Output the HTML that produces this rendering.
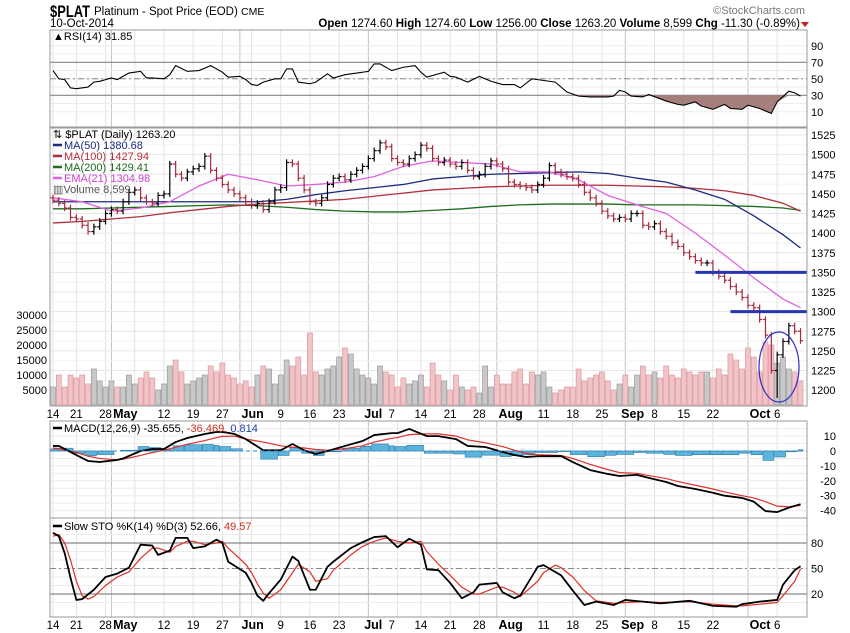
<!DOCTYPE html>
<html><head><meta charset="utf-8"><style>
html,body{margin:0;padding:0;background:#fff;}
svg{display:block;font-family:"Liberation Sans",sans-serif;}
</style></head><body>
<svg id="c" width="850" height="633" viewBox="0 0 850 633" xmlns="http://www.w3.org/2000/svg">
<text x="50" y="17" font-size="17" font-weight="bold" fill="#000" textLength="40" lengthAdjust="spacingAndGlyphs">$PLAT</text>
<text x="94" y="15" font-size="11.5" fill="#000">Platinum  - Spot Price (EOD) <tspan font-size="10.5">CME</tspan></text>
<text x="805" y="14" font-size="11" fill="#777" text-anchor="end">©StockCharts.com</text>
<text x="50" y="27" font-size="11.5" fill="#000">10-Oct-2014</text>
<text x="800" y="27" font-size="11.5" fill="#000" text-anchor="end"><tspan font-weight="bold">Open</tspan> 1274.60 <tspan font-weight="bold">High</tspan> 1274.60 <tspan font-weight="bold">Low</tspan> 1256.00 <tspan font-weight="bold">Close</tspan> 1263.20 <tspan font-weight="bold">Volume</tspan> 8,599 <tspan font-weight="bold">Chg</tspan> -11.30 (-0.89%)</text>
<polygon points="801,22 809,22 805,27" fill="#c02020"/>
<g id="g"></g>
</svg>
<script>
// ---------- data ----------
const closes=[1442,1438,1432,1420,1418,1410,1402,1408,1415,1425,
1430,1428,1440,1452,1455,1445,1440,1438,1448,1450,
1488,1475,1470,1478,1482,1485,1498,1480,1470,1462,
1455,1450,1445,1440,1435,1438,1430,1440,1455,1458,
1490,1488,1470,1455,1440,1438,1445,1462,1470,1472,
1468,1475,1480,1485,1495,1505,1515,1510,1495,1490,
1488,1495,1500,1512,1508,1495,1490,1493,1488,1485,
1490,1480,1472,1475,1485,1492,1488,1482,1465,1462,
1460,1458,1455,1462,1470,1486,1478,1475,1472,1470,
1462,1452,1445,1438,1428,1422,1418,1420,1418,1425,
1425,1410,1408,1412,1402,1396,1388,1383,1375,1370,
1365,1362,1362,1350,1345,1340,1332,1325,1318,1308,
1305,1290,1270,1225,1245,1262,1282,1275,1263];
const spikeLowIdx=[124];
const spikeLowVal=[1190];
const volumes=[6,10,6,10,9,10,7,12,8,6,
8,6,6,10,7,9,11,9,5,7,
13,15,11,7,8,9,10,13,11,14,
10,9,7,8,6,10,13,12,7,10,
15,13,16,10,24,11,10,12,13,16,
19,17,12,10,9,7,13,11,10,6,
9,7,8,10,6,14,10,8,5,10,
6,5,6,4,13,6,10,7,7,11,
12,7,11,10,11,6,4,5,6,6,
12,8,9,10,11,8,5,7,10,6,
10,13,10,11,9,13,10,9,12,11,
10,11,11,9,12,10,17,15,12,19,
16,11,21,20,14,16,12,11,8];
const maWeekIdx=[0,5,10,15,20,25,30,35,40,45,50,55,60,65,70,75,80,85,90,95,100,105,110,115,120,125,128];
const ma50=[1440,1440,1440,1440,1440,1440,1440,1440,1443,1449,1454,1458,1462,1469,1472,1475,1476,1477,1478,1476,1470,1465,1455,1443,1422,1398,1381];
const ma100=[1413,1415,1418,1421,1426,1430,1434,1437,1439,1441,1443,1447,1451,1455,1457,1459,1460,1461,1461,1461,1460,1459,1457,1454,1448,1438,1428];
const ma200=[1431,1431,1432,1433,1434,1435,1436,1435,1433,1430,1428,1427,1427,1429,1431,1434,1436,1437,1437,1437,1436,1436,1436,1435,1434,1432,1429];
const ema21=[1445,1440,1428,1432,1440,1460,1475,1468,1460,1462,1465,1472,1485,1492,1490,1488,1478,1478,1468,1448,1436,1425,1400,1372,1343,1316,1305];
const rsiIdx=[0,1,2,3,4,6,7,8,9,10,11,13,15,16,17,19,20,21,23,25,27,29,30,32,33,34,35,36,38,39,40,41,42,44,45,47,48,50,52,54,55,56,58,60,62,63,64,67,68,69,71,73,75,77,79,80,82,83,86,88,90,92,95,96,97,98,99,101,102,105,107,108,110,111,113,115,116,118,119,121,123,124,126,127,128];
const rsiVal=[60,50,49,39,38,40,46,47,49,51,49,57,59,51,51,50,55,66,59,60,66,58,52,53,49,43,42,46,50,50,62,62,46,44,46,56,51,55,57,59,68,68,60,64,66,58,52,58,53,52,46,53,47,43,43,39,50,49,46,34,29,28,28,29,36,34,29,28,31,23,19,18,22,17,13,19,14,13,18,14,8,22,35,33,29];
const macdIdx=[0,1,4,6,8,11,12,15,17,19,21,23,26,28,29,31,33,36,39,41,43,45,47,50,53,55,58,59,61,64,66,69,71,74,77,79,81,83,87,89,92,95,97,100,102,105,107,110,113,115,118,120,122,124,126,128];
const macdVal=[3.4,3.4,-2.7,-6.7,-7.4,-6,-5,0,1.3,1.3,6,8.7,11.4,12.8,12.8,11.5,8,0.5,0.5,4.7,0.5,-2,0,3.4,6.7,10.7,12,12,14.8,10,10,8,3.4,2.7,-0.7,-2.7,-4,-3.5,-3.4,-7.4,-12.8,-15.4,-16.8,-16,-18,-20.8,-23.5,-25.5,-28,-30,-31.5,-34,-40.3,-41,-38,-35.7];
const signalVal=[2,1.5,-1,-3.5,-5,-6,-5.5,-3,-1,0.5,2.5,4.5,7,9,9.8,10,8,6,3.5,2.5,2,1,0.5,1.5,3.5,6,8.5,9,11,11.5,11.5,10,7.5,5.5,3,0.5,-1.5,-2.5,-3,-5,-9,-12.5,-14.5,-15,-16.5,-18.5,-20.5,-23,-25.5,-27.5,-30,-31.5,-34,-37,-37.5,-36.5];
const stoKIdx=[0,1,2,3,4,5,7,9,11,13,15,17,18,20,21,23,24,26,28,29,30,33,34,35,36,37,39,41,42,44,45,47,48,51,53,55,57,59,61,63,64,66,68,70,72,73,76,77,79,80,83,84,87,89,91,93,96,98,101,104,109,113,117,118,121,124,125,127,128];
const stoK=[92,88,68,39,13,14,25,40,44,51,78,77,66,71,86,86,74,76,84,80,58,45,33,18,12,21,37,64,59,25,25,52,58,74,81,87,88,75,85,78,49,48,33,15,22,31,33,22,15,18,52,54,42,24,7,11,7,13,11,9,12,6,5,8,11,13,31,48,52.7];
const stoDIdx=[0,1,2,3,4,5,6,7,9,11,13,15,17,18,20,21,23,24,26,28,29,30,33,34,35,36,37,39,41,42,44,45,47,48,51,53,55,57,59,61,63,64,66,68,70,72,73,76,77,79,80,83,84,86,87,89,91,93,96,98,101,104,109,113,117,118,121,124,125,127,128];
const stoD=[88,90,80,60,35,18,14,17,30,40,46,62,74,74,69,76,82,82,78,80,82,74,55,45,32,21,15,25,45,55,46,35,38,48,66,76,82,86,82,80,82,70,55,42,28,20,20,28,28,22,17,35,45,54,51,40,24,12,9,10,11,10,11,8,6,6,8,10,18,35,49.6];
const tickIdx=[0,4,9,12,19,24,29,34,39,44,49,55,58,63,68,73,78,84,89,94,99,103,108,113,121,124];
const tickLbl=["14","21","28","May","12","19","27","Jun","9","16","23","Jul","7","14","21","28","Aug","11","18","25","Sep","8","15","22","Oct","6"];
const monthIdx=[10,32,54,76,98,119];
const weekIdx=[0,4,9,14,19,24,29,34,39,44,49,59,63,68,73,83,89,94,103,108,113,124];
const supportLevels=[1350,1300];
const supportStart=[110,116];
const priceTicks=[1525,1500,1475,1450,1425,1400,1375,1350,1325,1300,1275,1250,1225,1200];
const volTicks=[30000,25000,20000,15000,10000,5000];
// ---------- scales ----------
const L=50,R=807;
const X=i=>53+i*5.84;
const PY=p=>135+(1525-p)*0.785;
const VY=v=>405-v*3;
const RY=v=>62.3+(70-v)*0.825;
const MY=v=>451-v*1.49;
const SY=v=>611-v*0.85;
const NS="http://www.w3.org/2000/svg";
const G=document.getElementById('g');
function mk(t,a,p){const e=document.createElementNS(NS,t);for(const k in a)e.setAttribute(k,a[k]);(p||G).appendChild(e);return e;}
function line(x1,y1,x2,y2,st,w,da){return mk('line',{x1,y1,x2,y2,stroke:st,'stroke-width':w||1,'stroke-dasharray':da||'none'});}
function txt(x,y,s,o){const e=mk('text',Object.assign({x,y,'font-size':11,fill:'#000'},o||{}));e.textContent=s;return e;}
const panels=[[30,127,'rsi-panel'],[128,406,'price-panel'],[421,518,'macd-panel'],[518,617,'stochastic-panel']];
const defs=mk('defs',{});
panels.forEach((p,k)=>{const c=mk('clipPath',{id:'cp'+k},defs);mk('rect',{x:L,y:p[0],width:R-L,height:p[1]-p[0]},c);});
panels.forEach((p,k)=>{
  const r=mk('rect',{x:L,y:p[0],width:R-L,height:p[1]-p[0],fill:'#fff',stroke:'none'});
  
  
  weekIdx.forEach(i=>line(X(i),p[0],X(i),p[1],'#e2e2e2',1));
  monthIdx.forEach(i=>line(X(i),p[0],X(i),p[1],'#c4c4c4',1));
});
for(let v=10;v<=90;v+=10) line(L,RY(v),R,RY(v),'#ececec',1);
priceTicks.forEach(p=>line(L,PY(p),R,PY(p),'#e6e6e6',1));
for(let p=1512.5;p>1190;p-=25) line(L,PY(p),R,PY(p),'#f2f2f2',1);
for(let v=15;v>=-45;v-=5) line(L,MY(v),R,MY(v),'#ececec',1);
for(let v=10;v<=100;v+=10) line(L,SY(v),R,SY(v),'#ececec',1);
// RSI
line(L,RY(70),R,RY(70),'#888',1.2);line(L,RY(30),R,RY(30),'#888',1.2);line(L,RY(50),R,RY(50),'#888',1,'6,3,2,3');
const rsiG=mk('g',{'clip-path':'url(#cp0)'});
let fp='M'+X(rsiIdx[0])+','+RY(30);
rsiIdx.forEach((i,k)=>{fp+=' L'+X(i)+','+RY(Math.min(30,rsiVal[k]));});
fp+=' L'+X(rsiIdx[rsiIdx.length-1])+','+RY(30)+'Z';
const rf=mk('path',{d:fp,fill:'#a57f7c',stroke:'none'},rsiG);


const rl=mk('polyline',{points:rsiIdx.map((i,k)=>X(i)+','+RY(rsiVal[k])).join(' '),fill:'none',stroke:'#000','stroke-width':1.1},rsiG);


// volume
const volG=mk('g',{'clip-path':'url(#cp1)'});
volumes.forEach((v,i)=>{
  const up=i===0?true:closes[i]>=closes[i-1];
  const b=mk('rect',{x:X(i)-2.5,y:VY(v),width:5,height:405-VY(v),fill:up?'#c8c8c8':'#f2c4c8',stroke:up?'#9a9a9a':'#d89aa0','stroke-width':0.7},volG);
  
  
});
function series(idx,vals,col,w,name,yf,par){const e=mk('polyline',{points:idx.map((i,k)=>X(i)+','+yf(vals[k])).join(' '),fill:'none',stroke:col,'stroke-width':w,'stroke-linejoin':'round'},par);return e;}
const pG=mk('g',{'clip-path':'url(#cp1)'});
series(maWeekIdx,ma200,'#1e6b1e',1.3,'ma200-line',PY,pG);
series(maWeekIdx,ma100,'#b0303c',1.3,'ma100-line',PY,pG);
series(maWeekIdx,ma50,'#1c2a80',1.3,'ma50-line',PY,pG);
series(maWeekIdx,ema21,'#e060e0',1.3,'ema21-line',PY,pG);
closes.forEach((c,i)=>{
  const o=i===0?c+3:closes[i-1];
  let hi=Math.max(o,c)+4, lo=Math.min(o,c)-4;
  const sk=spikeLowIdx.indexOf(i); if(sk>=0) lo=spikeLowVal[sk];
  const col=c>=o?'#000':'#a8283c';
  const g=mk('g',{stroke:col,'stroke-width':1.2},pG);
  
  
  mk('line',{x1:X(i),y1:PY(hi),x2:X(i),y2:PY(lo)},g);
  mk('line',{x1:X(i)-2.5,y1:PY(o),x2:X(i),y2:PY(o)},g);
  mk('line',{x1:X(i),y1:PY(c),x2:X(i)+2.5,y2:PY(c)},g);
});
supportLevels.forEach((lv,k)=>{const s=line(X(supportStart[k]),PY(lv),R,PY(lv),'#2636b0',3);});
const el=mk('ellipse',{cx:779,cy:367,rx:20,ry:35,fill:'none',stroke:'#2c2cc8','stroke-width':1.2});


// MACD
const mG=mk('g',{'clip-path':'url(#cp2)'});
line(L,MY(0),R,MY(0),'#3a8abf',1,'4,3');
macdIdx.forEach((i,k)=>{
  const h=macdVal[k]-signalVal[k];
  const nx=k<macdIdx.length-1?X(macdIdx[k+1]):X(i)+5.84;
  const b=mk('rect',{x:X(i)-2.5,y:Math.min(MY(0),MY(h)),width:Math.max(4,nx-X(i)-0.8),height:Math.abs(MY(h)-MY(0)),fill:'#5ab4dc',stroke:'#2a78a8','stroke-width':0.6},mG);
  
  
});
series(macdIdx,signalVal,'#e0302a',1.2,'macd-signal-line',MY,mG);
series(macdIdx,macdVal,'#000',1.8,'macd-line',MY,mG);
// STO
line(L,SY(80),R,SY(80),'#888',1.2);line(L,SY(20),R,SY(20),'#888',1.2);line(L,SY(50),R,SY(50),'#888',1,'6,3,2,3');
const sG=mk('g',{'clip-path':'url(#cp3)'});
series(stoDIdx,stoD,'#e0302a',1.2,'sto-d-line',SY,sG);
series(stoKIdx,stoK,'#000',1.8,'sto-k-line',SY,sG);
panels.forEach(p=>mk('rect',{x:L,y:p[0],width:R-L,height:p[1]-p[0],fill:'none',stroke:'#9a9a9a','stroke-width':1}));
[90,70,50,30,10].forEach(v=>{const t=txt(811,RY(v)+4,String(v));});
priceTicks.forEach(p=>{const t=txt(811,PY(p)+4,String(p));});
volTicks.forEach(v=>{const t=txt(47,VY(v/1000)+4,String(v),{'text-anchor':'end'});});
[10,0,-10,-20,-30,-40].forEach(v=>{const t=txt(836,MY(v)+4,String(v),{'text-anchor':'end'});});
[80,50,20].forEach(v=>{const t=txt(811,SY(v)+4,String(v));});
[418,629].forEach(yy=>{
  tickIdx.forEach((i,k)=>{
    const isM=isNaN(+tickLbl[k]);
    const t=txt(isM?X(i)-10:X(i),yy,tickLbl[k],isM?{'font-weight':'bold','font-size':12.5}:{'text-anchor':'middle','font-size':11.5});
    
    
  });
});
function leg(y,parts,name,mark){
  if(mark) line(53,y-4,62,y-4,mark,2.5);
  const t=mk('text',{x:mark?64:53,y,'font-size':11});
  parts.forEach(p=>{const s=mk('tspan',{fill:p[1]},t);s.textContent=p[0];});
  
  
}
leg(40,[['▲RSI(14) 31.85','#000']],'rsi-legend');
leg(138,[['⇅ $PLAT (Daily) 1263.20','#000']],'price-legend');
leg(149,[['MA(50) 1380.68','#1c2a80']],'ma50-legend','#1c2a80');
leg(160,[['MA(100) 1427.94','#b0303c']],'ma100-legend','#b0303c');
leg(171,[['MA(200) 1429.41','#1e6b1e']],'ma200-legend','#1e6b1e');
leg(182,[['EMA(21) 1304.98','#d040d0']],'ema21-legend','#e060e0');
leg(193,[['▥Volume 8,599','#555']],'volume-legend');
leg(432,[['MACD(12,26,9) -35.655, ','#000'],['-36.469,','#d03020'],[' 0.814','#2040b0']],'macd-legend','#000');
leg(530,[['Slow STO %K(14) %D(3) 52.66, ','#000'],['49.57','#d03020']],'sto-legend','#000');
</script>
</body></html>
